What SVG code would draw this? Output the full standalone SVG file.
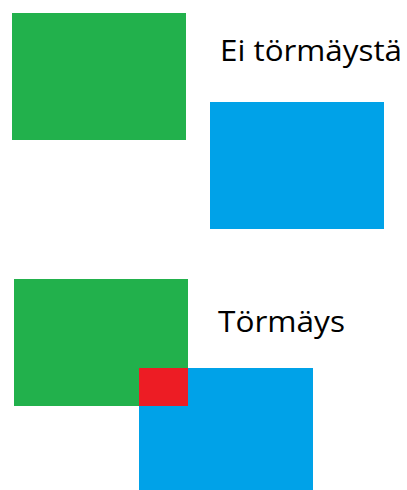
<svg xmlns="http://www.w3.org/2000/svg" width="407" height="490" viewBox="0 0 407 490">
<style>
.g{fill:#22b14c}.b{fill:#00a2e8}.r{fill:#ed1c24}
.t{font-family:"Open Sans","Liberation Sans",sans-serif;font-size:29px;fill:#000}
</style>
<rect width="407" height="490" fill="#fff"/>
<g id="green1"><rect class="g" x="12" y="13" width="174" height="127"/></g>
<g id="blue1"><rect class="b" x="210" y="102" width="174" height="127"/></g>
<g id="label1"><text class="t" x="220" y="61" textLength="182" lengthAdjust="spacingAndGlyphs">Ei törmäystä</text></g>
<g id="green2"><rect class="g" x="14" y="279" width="174" height="127"/></g>
<g id="blue2"><rect class="b" x="139" y="368" width="174" height="122"/></g>
<g id="overlap"><rect class="r" x="139" y="368" width="49" height="38"/></g>
<g id="label2"><text class="t" x="218" y="332" textLength="127" lengthAdjust="spacingAndGlyphs">Törmäys</text></g>
<g id="connectors"/>
</svg>
